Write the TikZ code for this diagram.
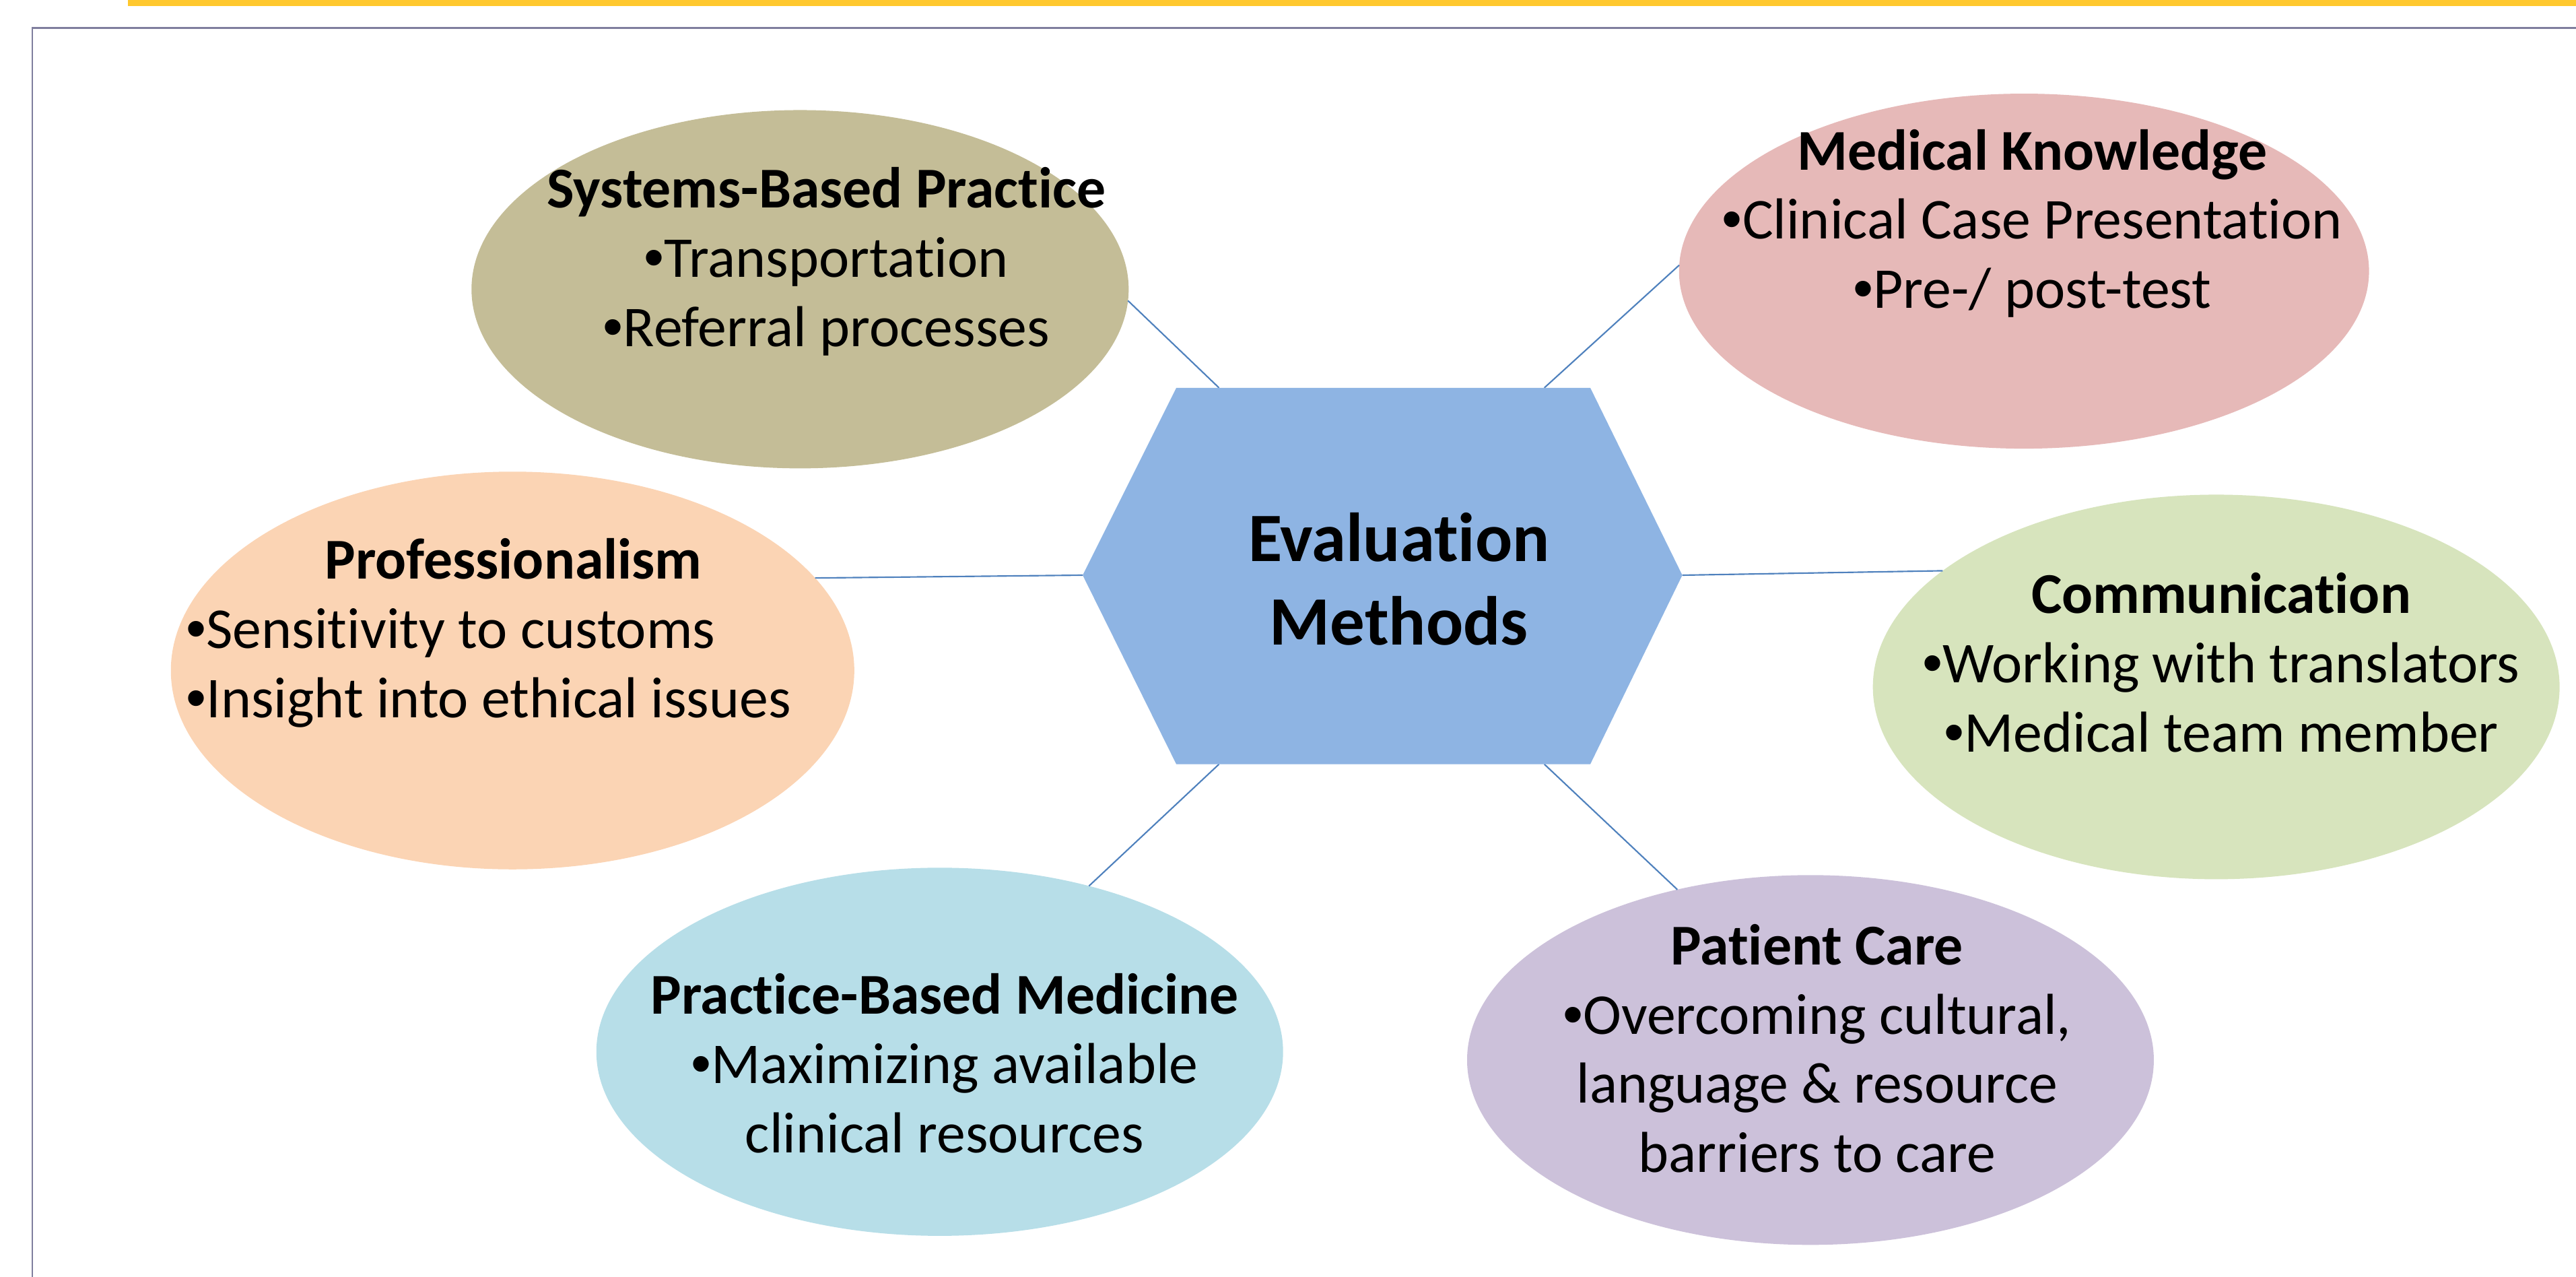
\documentclass[tikz,border=0pt]{standalone}
\usepackage{fontspec}
\setmainfont{Carlito}[Ligatures=NoCommon]
\newfontfamily\bulletfont{Liberation Sans}
\newcommand{\bul}{{\bulletfont •}}
\usetikzlibrary{shapes.geometric}
\definecolor{baryellow}{HTML}{FFC82E}
\definecolor{framegray}{HTML}{7F7E9E}
\definecolor{hexblue}{HTML}{8EB4E3}
\definecolor{linkblue}{HTML}{4F81BD}
\definecolor{sbpfill}{HTML}{C4BD97}
\definecolor{mkfill}{HTML}{E6B9B8}
\definecolor{proffill}{HTML}{FBD4B4}
\definecolor{commfill}{HTML}{D7E4BD}
\definecolor{pbmfill}{HTML}{B7DEE8}
\definecolor{pcfill}{HTML}{CCC1DA}
\tikzset{
  oval/.style={ellipse, inner sep=0pt, outer sep=0pt},
  txt/.style={inner sep=0pt, align=center, font=\fontsize{20}{24}\selectfont},
  link/.style={draw=linkblue, line width=0.5pt},
}
\begin{document}
\begin{tikzpicture}
  \useasboundingbox (0,0) rectangle (31.36,15.54);
  \fill[baryellow] (1.56,15.465) rectangle (31.36,15.54);
  \draw[framegray, line width=0.5pt] (31.36,15.2) -- (0.393,15.2) -- (0.393,0);
  % hexagon
  \coordinate (hl) at (13.18,8.54);
  \coordinate (htl) at (14.32,10.82);
  \coordinate (htr) at (19.36,10.82);
  \coordinate (hr) at (20.48,8.54);
  \coordinate (hbr) at (19.36,6.24);
  \coordinate (hbl) at (14.32,6.24);
  \coordinate (hsbp) at (14.84,10.82);
  \coordinate (hmk) at (18.80,10.82);
  \coordinate (hpbm) at (14.84,6.24);
  \coordinate (hpc) at (18.80,6.24);
  \node (sbp) at (9.74,12.02) [oval, fill=sbpfill, minimum width=8cm, minimum height=4.36cm] {};
  \node (mk) at (24.64,12.24) [oval, fill=mkfill, minimum width=8.4cm, minimum height=4.32cm] {};
  \node (prof) at (6.24,7.38) [oval, fill=proffill, minimum width=8.32cm, minimum height=4.84cm] {};
  \node (comm) at (26.98,7.18) [oval, fill=commfill, minimum width=8.36cm, minimum height=4.68cm] {};
  \node (pbm) at (11.44,2.74) [oval, fill=pbmfill, minimum width=8.36cm, minimum height=4.48cm] {};
  \node (pc) at (22.04,2.64) [oval, fill=pcfill, minimum width=8.36cm, minimum height=4.5cm] {};
  \path[link] (hsbp) edge (sbp.-2)
              (hmk) edge (mk.179)
              (hl) edge (prof.17)
              (hr) edge (comm.157)
              (hpbm) edge (pbm.48)
              (hpc) edge (pc.128)
              ;
  \fill[hexblue] (hl) -- (htl) -- (htr) -- (hr) -- (hbr) -- (hbl) -- cycle;
  \node (eval) at (17.03,8.49) [txt, font=\bfseries\fontsize{24}{29}\selectfont] {Evaluation\\Methods};
  \node (sbptext) at (10.06,12.36) [txt] {\textbf{Systems-Based Practice}\\\bul Transportation\\\bul Referral processes};
  \node (mktext) at (24.74,12.82) [txt] {\textbf{Medical Knowledge}\\\bul Clinical Case Presentation\\\bul Pre-/ post-test};
  \node (proftext) at (2.26,7.82) [txt, anchor=west]
    {\begin{tabular}{@{}l@{}}\multicolumn{1}{@{}c@{}}{\hspace{0.6cm}\textbf{Professionalism}}\\
     \bul Sensitivity to customs\\\bul Insight into ethical issues\end{tabular}};
  \node (commtext) at (27.04,7.48) [txt] {\textbf{Communication}\\\bul Working with translators\\\bul Medical team member};
  \node (pbmtext) at (11.50,2.60) [txt] {\textbf{Practice-Based Medicine}\\\bul Maximizing available\\clinical resources};
  \node (pctext) at (22.12,2.78) [txt] {\textbf{Patient Care}\\\bul Overcoming cultural,\\language \& resource\\barriers to care};
\end{tikzpicture}
\end{document}
